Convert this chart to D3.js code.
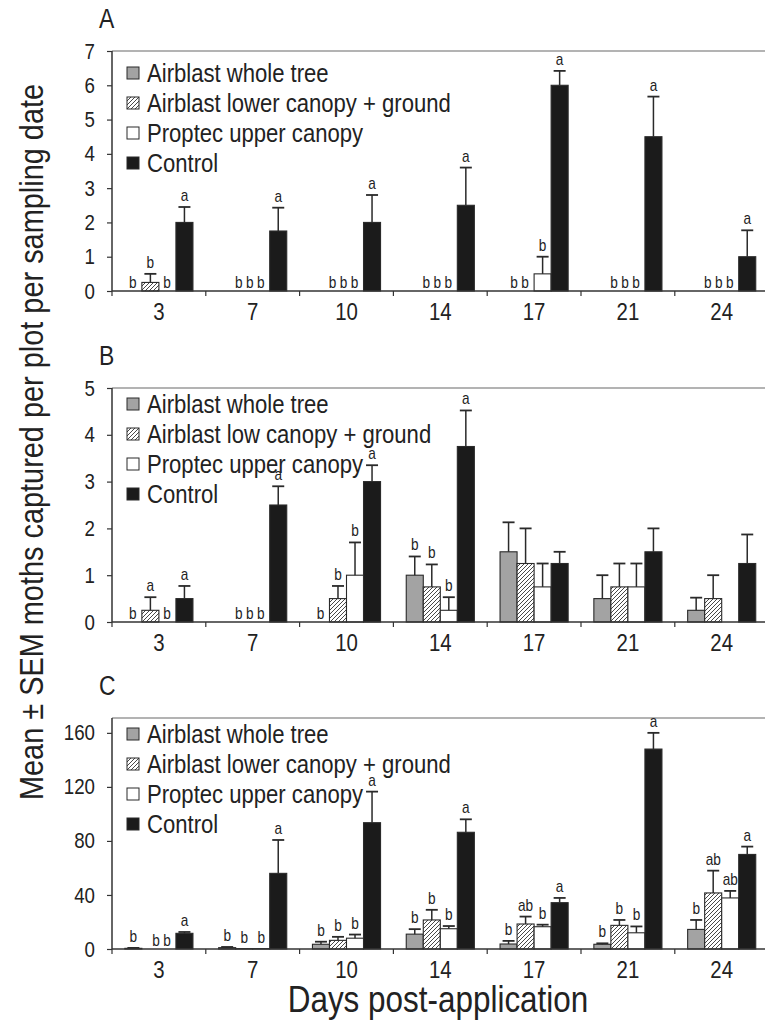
<!DOCTYPE html>
<html><head><meta charset="utf-8">
<script src="https://cdn.jsdelivr.net/npm/d3@7"></script>
<style>body{margin:0;background:#fff}svg{display:block}</style>
</head><body>
<svg id="chart" width="765" height="1029"></svg>
<script>
// ---------- DATA ----------
const days = ["3", "7", "10", "14", "17", "21", "24"];
const legendA = ["Airblast whole tree", "Airblast lower canopy + ground", "Proptec upper canopy", "Control"];
const legendB = ["Airblast whole tree", "Airblast low canopy + ground", "Proptec upper canopy", "Control"];
const legendC = ["Airblast whole tree", "Airblast lower canopy + ground", "Proptec upper canopy", "Control"];

const ticksA = [0, 1, 2, 3, 4, 5, 6, 7];
const ticksB = [0, 1, 2, 3, 4, 5];
const ticksC = [0, 40, 80, 120, 160];

// Panel A means and SEM
const aWhole = [0, 0, 0, 0, 0, 0, 0];
const aWholeSE = [0, 0, 0, 0, 0, 0, 0];
const aLower = [0.25, 0, 0, 0, 0, 0, 0];
const aLowerSE = [0.25, 0, 0, 0, 0, 0, 0];
const aUpper = [0, 0, 0, 0, 0.5, 0, 0];
const aUpperSE = [0, 0, 0, 0, 0.5, 0, 0];
const aControl = [2, 1.75, 2, 2.5, 6, 4.5, 1];
const aControlSE = [0.45, 0.68, 0.8, 1.1, 0.42, 1.17, 0.77];
const aLetters = [["b","b","b","a"],["b","b","b","a"],["b","b","b","a"],["b","b","b","a"],["b","b","b","a"],["b","b","b","a"],["b","b","b","a"]];

// Panel B
const bWhole = [0, 0, 0, 1, 1.5, 0.5, 0.25];
const bWholeSE = [0, 0, 0, 0.4, 0.63, 0.5, 0.27];
const bLower = [0.25, 0, 0.5, 0.75, 1.25, 0.75, 0.5];
const bLowerSE = [0.28, 0, 0.27, 0.48, 0.75, 0.5, 0.5];
const bUpper = [0, 0, 1, 0.25, 0.75, 0.75, 0];
const bUpperSE = [0, 0, 0.7, 0.28, 0.5, 0.5, 0];
const bControl = [0.5, 2.5, 3, 3.75, 1.25, 1.5, 1.25];
const bControlSE = [0.27, 0.4, 0.35, 0.77, 0.25, 0.5, 0.62];
const bLetters = [["b","a","b","a"],["b","b","b","a"],["b","b","b","a"],["b","b","b","a"],["","","",""],["","","",""],["","","",""]];

// Panel C
const cWhole = [0.5, 1, 3.5, 11, 3.7, 3.5, 14.5];
const cWholeSE = [0.3, 0.5, 1.9, 3.7, 2.3, 0.7, 7];
const cLower = [0, 0.3, 6.4, 21.5, 18.5, 17.5, 41.5];
const cLowerSE = [0, 0, 2.6, 7.5, 5.5, 4, 16.5];
const cUpper = [0, 0.3, 8, 15, 16.5, 12, 37.8];
const cUpperSE = [0, 0, 2.7, 2, 1.5, 4.7, 5.2];
const cControl = [11.6, 56, 93.5, 86.4, 34.3, 148, 70];
const cControlSE = [1, 24.7, 23, 9.6, 3.5, 12, 5.8];
const cLetters = [["b","b","b","a"],["b","b","b","a"],["b","b","b","a"],["b","b","b","a"],["b","ab","b","a"],["b","b","b","a"],["b","ab","ab","a"]];

// ---------- LAYOUT ----------
const FONT = "'Liberation Sans', Arial, Helvetica, sans-serif";
const SX = 0.85; // condensed look
const svg = d3.select("#chart");
const left = 112, step = 93.8, W = 765;
const fills = ["#a3a3a3", "url(#hatch)", "#ffffff", "#1b1b1b"];

function txt(parent, x, y, s, size, anchor) {
  return parent.append("text")
    .attr("transform", `translate(${x},${y}) scale(${SX},1)`)
    .attr("text-anchor", anchor || "start")
    .attr("font-family", FONT).attr("font-size", size).attr("fill", "#222")
    .text(s);
}

const defs = svg.append("defs");
const pat = defs.append("pattern").attr("id", "hatch").attr("patternUnits", "userSpaceOnUse")
  .attr("width", 4).attr("height", 4);
pat.append("rect").attr("width", 4).attr("height", 4).attr("fill", "#fff");
pat.append("path").attr("d", "M-1,1 l2,-2 M0,4 l4,-4 M3,5 l2,-2")
  .attr("stroke", "#333").attr("stroke-width", 0.9);

const x0 = d3.scaleBand().domain(days).range([left, left + step * days.length]).padding(0);
const x1 = d3.scaleBand().domain([0, 1, 2, 3]).range([0, x0.bandwidth()]).paddingInner(0).paddingOuter(0.755);

const panels = [
  {label: "A", top: 51, zero: 291, max: 7, ticks: ticksA, legend: legendA, legY: 22,
   means: [aWhole, aLower, aUpper, aControl], se: [aWholeSE, aLowerSE, aUpperSE, aControlSE], letters: aLetters},
  {label: "B", top: 388, zero: 622, max: 5, ticks: ticksB, legend: legendB, legY: 16,
   means: [bWhole, bLower, bUpper, bControl], se: [bWholeSE, bLowerSE, bUpperSE, bControlSE], letters: bLetters},
  {label: "C", top: 718, zero: 949, max: 171, ticks: ticksC, legend: legendC, legY: 16,
   means: [cWhole, cLower, cUpper, cControl], se: [cWholeSE, cLowerSE, cUpperSE, cControlSE], letters: cLetters}
];

panels.forEach(p => {
  const g = svg.append("g");
  const y = d3.scaleLinear().domain([0, p.max]).range([p.zero, p.top]);

  // panel label
  txt(g, 99, p.top - 23, p.label, 27);

  // top border
  g.append("line").attr("x1", left).attr("x2", W).attr("y1", p.top).attr("y2", p.top)
    .attr("stroke", "#9a9a9a").attr("stroke-width", 1.5);

  // y axis
  const ya = d3.axisLeft(y).tickValues(p.ticks).tickSize(5).tickPadding(15).tickFormat(d3.format("d"));
  const yg = g.append("g").attr("transform", `translate(${left},0)`).call(ya);
  yg.select(".domain").attr("d", `M0,${p.zero}V${p.top}`).attr("stroke", "#333").attr("stroke-width", 1.5);
  yg.selectAll(".tick line").attr("stroke", "#333").attr("stroke-width", 1.2);
  yg.selectAll(".tick text").attr("font-family", FONT).attr("font-size", 22).attr("fill", "#222")
    .attr("transform", `scale(${SX},1)`);

  days.forEach((d, gi) => {
    const gx = x0(d);
    const vals = p.means.map(s => s[gi]);
    // bars
    vals.forEach((v, si) => {
      if (v <= 0) return;
      g.append("rect").attr("x", gx + x1(si)).attr("y", y(v))
        .attr("width", x1.bandwidth()).attr("height", p.zero - y(v))
        .attr("fill", fills[si]).attr("stroke", "#2a2a2a").attr("stroke-width", 1.1);
    });
    // error bars
    vals.forEach((v, si) => {
      const e = p.se[si][gi];
      if (e <= 0) return;
      const cx = gx + x1(si) + x1.bandwidth() / 2;
      g.append("line").attr("x1", cx).attr("x2", cx).attr("y1", y(v)).attr("y2", y(v + e))
        .attr("stroke", "#2a2a2a").attr("stroke-width", 1.5);
      g.append("line").attr("x1", cx - 6).attr("x2", cx + 6).attr("y1", y(v + e)).attr("y2", y(v + e))
        .attr("stroke", "#2a2a2a").attr("stroke-width", 1.8);
    });
    // significance letters
    for (let si = 0; si < 4; si++) {
      const L = p.letters[gi][si];
      if (!L) continue;
      const v = vals[si];
      let lx, ly;
      if (v === 0) {
        let end = si; while (end + 1 < 4 && vals[end + 1] === 0) end++;
        const endX = gx + x1(end) + x1.bandwidth();
        lx = endX - 9 - 11 * (end - si);
        ly = p.zero - 3;
      } else {
        lx = gx + x1(si) + x1.bandwidth() / 2;
        ly = y(v + p.se[si][gi]) - 6;
      }
      txt(g, lx, ly, L, 16, "middle");
    }
  });

  // x axis
  const xa = d3.axisBottom(x0).tickSize(0).tickPadding(12);
  const xg = g.append("g").attr("transform", `translate(0,${p.zero})`).call(xa);
  xg.select(".domain").attr("d", `M${left},0H${W}`).attr("stroke", "#333").attr("stroke-width", 1.5);
  xg.selectAll(".tick text").attr("font-family", FONT).attr("font-size", 24).attr("fill", "#222")
    .attr("dy", "0.71em").attr("transform", `scale(${SX},1)`);
  xg.selectAll(".bnd").data(days).enter().append("line").attr("class", "bnd")
    .attr("x1", d => x0(d)).attr("x2", d => x0(d)).attr("y1", 0).attr("y2", 5)
    .attr("stroke", "#333").attr("stroke-width", 1.2);

  // legend
  const lg = g.append("g").attr("transform", `translate(127,${p.top + p.legY})`);
  p.legend.forEach((t, i) => {
    const ry = i * 30;
    lg.append("rect").attr("x", 0).attr("y", ry - 6).attr("width", 12).attr("height", 12)
      .attr("fill", fills[i]).attr("stroke", "#2a2a2a").attr("stroke-width", 1);
    txt(lg, 20, ry + 9, t, 26);
  });
});

// axis titles
svg.append("text")
  .attr("transform", `translate(43,442) rotate(-90) scale(${SX},1)`).attr("text-anchor", "middle")
  .text("Mean ± SEM moths captured per plot per sampling date")
  .attr("font-family", FONT).attr("font-size", 34).attr("fill", "#222");
txt(svg, 438, 1012, "Days post-application", 37, "middle");
</script>
</body></html>
